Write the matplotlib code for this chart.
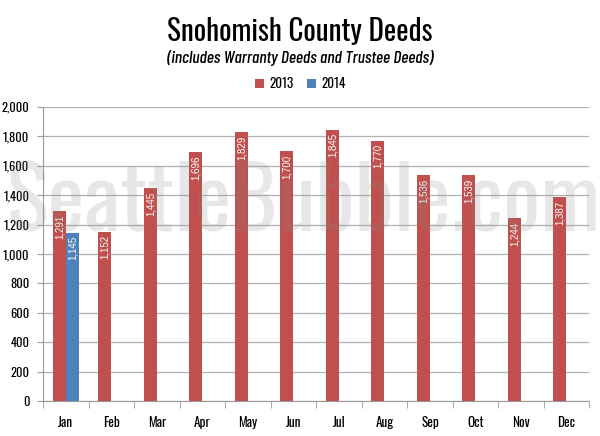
import matplotlib
matplotlib.use('Agg')
from matplotlib import pyplot as plt
import numpy as np

MONTHS = ['Jan', 'Feb', 'Mar', 'Apr', 'May', 'Jun', 'Jul', 'Aug', 'Sep', 'Oct', 'Nov', 'Dec']
DEEDS_2013 = [1291, 1152, 1445, 1696, 1829, 1700, 1845, 1770, 1536, 1539, 1244, 1387]
DEEDS_2014 = [1145]
Y_TICKS = [0, 200, 400, 600, 800, 1000, 1200, 1400, 1600, 1800, 2000]

RED = '#C0504D'
BLUE = '#4F81BD'
FONT = ['Oswald', 'DejaVu Sans']
ITALIC_FONT = ['Barlow Condensed', 'DejaVu Sans']


def main():
    fig = plt.figure(figsize=(6, 4.36), dpi=100)
    ax = fig.add_axes([0.072, 0.080, 0.910, 0.675])

    x = np.arange(len(MONTHS))
    width = 0.29
    ax.bar(x - width / 2, DEEDS_2013, width, color=RED, label='2013', zorder=3)
    ax.bar(x[:len(DEEDS_2014)] + width / 2, DEEDS_2014, width, color=BLUE, label='2014', zorder=3)

    # value labels, rotated inside the top of each bar
    for xi, v in zip(x - width / 2, DEEDS_2013):
        ax.text(xi, v - 25, f'{v:,}', rotation=90, ha='center', va='top',
                color='white', fontsize=7, family='Liberation Sans', zorder=4)
    for xi, v in zip(x[:len(DEEDS_2014)] + width / 2, DEEDS_2014):
        ax.text(xi, v - 25, f'{v:,}', rotation=90, ha='center', va='top',
                color='white', fontsize=7, family='Liberation Sans', zorder=4)

    ax.set_xlim(-0.5, len(MONTHS) - 0.5)
    ax.set_ylim(0, 2000)
    ax.set_yticks(Y_TICKS)
    ax.set_yticklabels([f'{t:,}' for t in Y_TICKS], family=FONT, fontsize=9, fontweight='medium')
    ax.set_xticks(x)
    ax.set_xticklabels(MONTHS, family=FONT, fontsize=9.5, fontweight='medium')
    ax.set_xticks(np.arange(len(MONTHS) + 1) - 0.5, minor=True)
    ax.tick_params(axis='x', which='major', length=0, pad=11)
    ax.tick_params(axis='x', which='minor', length=5, color='#999999')
    ax.tick_params(axis='y', length=4, color='#999999', pad=6)
    ax.grid(axis='y', color='#b0b0b0', linewidth=0.9, zorder=0)
    for side in ['top', 'right']:
        ax.spines[side].set_visible(False)
    ax.spines['left'].set_color('#999999')
    ax.spines['bottom'].set_color('#999999')

    fig.text(0.5, 0.928, 'Snohomish County Deeds', ha='center', va='center',
             family=FONT, fontsize=21, fontweight='medium')
    fig.text(0.5, 0.866, '(includes Warranty Deeds and Trustee Deeds)', ha='center', va='center',
             family=ITALIC_FONT, fontsize=12.5, style='italic', fontweight='medium')
    fig.legend(loc='center', bbox_to_anchor=(0.5, 0.808), ncol=2, frameon=False,
               handlelength=0.7, handleheight=0.7, handletextpad=0.4, columnspacing=1.0,
               prop={'family': FONT, 'size': 9.5, 'weight': 'medium'})

    # watermark
    fig.text(0.505, 0.53, 'SeattleBubble.com', ha='center', va='center', family=FONT,
             fontsize=63, fontweight='bold', color='#888888', alpha=0.2, zorder=10)

    plt.savefig('out.png', dpi=100)
    plt.close()


if __name__ == '__main__':
    main()
